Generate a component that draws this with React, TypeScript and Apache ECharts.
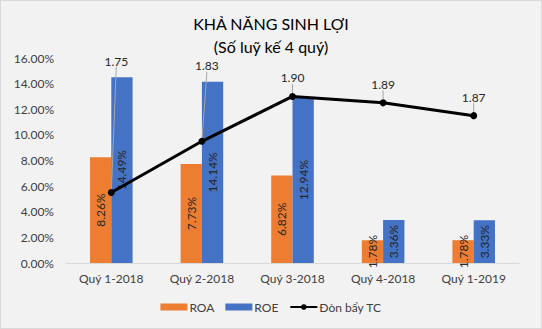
import React, { useEffect, useRef } from "react";
import * as echarts from "echarts";

const categories = ["Quý 1-2018", "Quý 2-2018", "Quý 3-2018", "Quý 4-2018", "Quý 1-2019"];
const roa = [8.26, 7.73, 6.82, 1.78, 1.78];
const roe = [14.49, 14.14, 12.94, 3.36, 3.33];
const leverage = [1.75, 1.83, 1.9, 1.89, 1.87];
const titleLines = ["KHẢ NĂNG SINH LỢI", "(Số luỹ kế 4 quý)"];

const FONT = "Lato, 'Noto Sans', sans-serif";

export default function App() {
  const ref = useRef<HTMLDivElement>(null);
  useEffect(() => {
    if (!ref.current) return;
    const chart = echarts.init(ref.current, undefined, { renderer: "svg" });
    chart.setOption({
      animation: false,
      backgroundColor: "#f2f2f2",
      textStyle: { fontFamily: FONT },
      title: {
        text: titleLines.join("\n"),
        left: "center",
        top: 6,
        textStyle: { fontFamily: FONT, fontSize: 16, fontWeight: "normal", color: "#000", lineHeight: 23 },
      },
      legend: {
        bottom: 10,
        left: "center",
        itemWidth: 27,
        itemHeight: 7,
        itemGap: 11,
        textStyle: { fontFamily: FONT, fontSize: 12, color: "#404040", padding: [0, 0, 0, -3] },
        data: [
          { name: "ROA", icon: "rect" },
          { name: "ROE", icon: "rect" },
          { name: "Đòn bẩy TC" },
        ],
      },
      grid: { left: 65, right: 22, top: 57, bottom: 65 },
      xAxis: {
        type: "category",
        data: categories,
        axisLine: { lineStyle: { color: "#d9d9d9" } },
        axisTick: { show: false },
        axisLabel: { fontFamily: FONT, fontSize: 12, color: "#404040", margin: 9 },
      },
      yAxis: [
        {
          type: "value",
          min: 0,
          max: 16,
          interval: 2,
          splitLine: { show: false },
          axisLine: { show: false },
          axisTick: { show: false },
          axisLabel: {
            fontFamily: FONT,
            fontSize: 12,
            color: "#404040",
            margin: 12,
            formatter: (v: number) => v.toFixed(2) + "%",
          },
        },
        {
          type: "value",
          min: 1.64,
          max: 1.96,
          interval: 0.04,
          show: false,
          splitLine: { show: false },
        },
      ],
      series: [
        {
          name: "ROA",
          type: "bar",
          data: roa,
          barGap: "0%",
          barCategoryGap: "53%",
          itemStyle: { color: "#ED7D31" },
          label: {
            show: true,
            position: "inside",
            rotate: 90,
            fontFamily: FONT,
            fontSize: 12,
            color: "#262626",
            formatter: (p: any) => p.value.toFixed(2) + "%",
          },
        },
        {
          name: "ROE",
          type: "bar",
          data: roe,
          itemStyle: { color: "#4472C4" },
          label: {
            show: true,
            position: "inside",
            rotate: 90,
            fontFamily: FONT,
            fontSize: 12,
            color: "#262626",
            formatter: (p: any) => p.value.toFixed(2) + "%",
          },
        },
        {
          name: "Đòn bẩy TC",
          type: "line",
          yAxisIndex: 1,
          data: leverage,
          symbol: "circle",
          symbolSize: 7,
          itemStyle: { color: "#000" },
          lineStyle: { color: "#000", width: 3 },
          label: {
            show: true,
            position: "top",
            distance: 9,
            fontFamily: FONT,
            fontSize: 12,
            color: "#262626",
            formatter: (p: any) => p.value.toFixed(2),
          },
          labelLine: { show: true, lineStyle: { color: "#a6a6a6", width: 1 } },
          labelLayout: (p: any) => {
            if (p.dataIndex === 0) return { dx: 5, dy: -113 };
            if (p.dataIndex === 1) return { dx: 5, dy: -57 };
            return {};
          },
        },
      ],
    });
    return () => chart.dispose();
  }, []);
  return (
    <div
      ref={ref}
      style={{
        position: "fixed",
        left: 0,
        top: 0,
        width: 542,
        height: 329,
        boxSizing: "border-box",
        border: "1px solid #d9d9d9",
      }}
    />
  );
}
